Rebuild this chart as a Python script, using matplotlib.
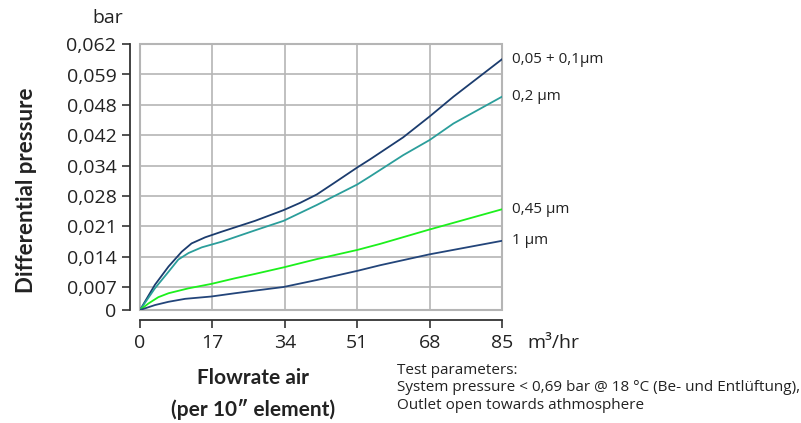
import numpy as np
import matplotlib
matplotlib.use('Agg')
import matplotlib.pyplot as plt
from matplotlib.patches import Rectangle

# flowrate (m3/hr) and differential pressure (bar)
x_005 = [0, 3.5, 6.7, 9.8, 12.1, 15.3, 19.2, 27, 33.7, 37.6, 41.5, 45.4, 51, 54, 61.8, 68, 73.6, 85]
dp_005 = [0, 0.0075, 0.0117, 0.0151, 0.0170, 0.0184, 0.0197, 0.0222, 0.0247, 0.0264,
          0.0283, 0.0305, 0.0337, 0.0357, 0.0414, 0.0457, 0.0510, 0.0605]

x_02 = [0, 3.5, 6.7, 9.0, 11.4, 14.5, 19.2, 27, 33.7, 41.5, 51, 54, 61.8, 68, 73.6, 85]
dp_02 = [0, 0.0066, 0.0105, 0.0133, 0.0148, 0.0161, 0.0174, 0.0200, 0.0222, 0.0259,
         0.0303, 0.0319, 0.0368, 0.0407, 0.0443, 0.0510]

x_045 = [0, 2.0, 4.3, 6.7, 11.4, 16.7, 22.3, 27, 33.7, 41.5, 51, 56.4, 68, 85]
dp_045 = [0, 0.0020, 0.0039, 0.0051, 0.0066, 0.0077, 0.0090, 0.0100, 0.0115, 0.0134,
          0.0155, 0.0169, 0.0202, 0.0249]

x_1 = [0, 3.5, 6.7, 10.6, 16.7, 22.3, 27, 33.7, 41.5, 51, 56.4, 68, 85]
dp_1 = [0, 0.0015, 0.0025, 0.0034, 0.0041, 0.0051, 0.0059, 0.0070, 0.0086, 0.0107,
        0.0120, 0.0145, 0.0176]

series_names = ['0,05 + 0,1µm', '0,2 µm', '0,45 µm', '1 µm']
series_colors = ['#1b3c6e', '#2b9e9b', '#1cf01c', '#23457a']

x_ticks = [0, 17, 34, 51, 68, 85]
y_ticks = [0, 0.007, 0.014, 0.021, 0.028, 0.034, 0.042, 0.048, 0.059, 0.062]
y_tick_labels = ['0', '0,007', '0,014', '0,021', '0,028', '0,034', '0,042', '0,048', '0,059', '0,062']

# the drawing's y axis is not linear: place the ticks where the original has them
y_tick_pos = np.array([0, 23, 53.5, 84, 114, 144, 175, 205, 235.5, 266]) / 30.0


def fwd(v):
    return np.interp(v, y_ticks, y_tick_pos)


def inv(p):
    return np.interp(p, y_tick_pos, y_ticks)


plt.rcParams['font.family'] = ['Open Sans', 'DejaVu Sans']
grid_col = '#b5b5b5'
axis_col = '#333333'
txt_col = '#222222'

fig = plt.figure(figsize=(8.01, 4.23), dpi=100)
ax = fig.add_axes([140 / 801, 113 / 423, 362 / 801, 266 / 423])
ax.set_yscale('function', functions=(fwd, inv))
ax.set_xlim(0, 85)
ax.set_ylim(0, 0.062)

for xs, ys, name, c in zip([x_005, x_02, x_045, x_1], [dp_005, dp_02, dp_045, dp_1],
                           series_names, series_colors):
    ax.plot(xs, ys, color=c, lw=1.3, zorder=3)
    ax.annotate(name, xy=(xs[-1], ys[-1]), xytext=(7, 0), textcoords='offset points',
                va='center', ha='left', fontsize=11, color=txt_col, annotation_clip=False)

ax.set_xticks(x_ticks)
ax.set_yticks(y_ticks)
ax.set_yticklabels(y_tick_labels)
ax.minorticks_off()
ax.grid(True, color=grid_col, lw=1.2)
ax.set_axisbelow(True)
ax.add_patch(Rectangle((0, 0), 1, 1, transform=ax.transAxes, fill=False,
                       edgecolor=grid_col, lw=1.5, clip_on=False, zorder=2))

for s in ['top', 'right']:
    ax.spines[s].set_visible(False)
for s in ['left', 'bottom']:
    ax.spines[s].set_position(('outward', 7.5))
    ax.spines[s].set_color(axis_col)
    ax.spines[s].set_linewidth(1.3)
ax.tick_params(axis='both', colors=axis_col, labelcolor=txt_col, labelsize=14,
               length=5.5, width=1.2)
ax.tick_params(axis='y', pad=4)
ax.tick_params(axis='x', pad=4)

fig.text(108 / 801, 1 - 18 / 423, 'bar', ha='center', va='center', fontsize=14, color=txt_col)
fig.text(527 / 801, 1 - 343 / 423, 'm³/hr', ha='left', va='center', fontsize=14, color=txt_col)
fig.text(27 / 801, 1 - 190 / 423, 'Differential pressure', rotation=90, ha='center', va='center',
         fontsize=16, fontweight='bold', family=['Lato', 'DejaVu Sans'], color=txt_col)
fig.text(253 / 801, 1 - 378 / 423, 'Flowrate air', ha='center', va='center',
         fontsize=15, fontweight='bold', family=['Lato', 'DejaVu Sans'], color=txt_col)
fig.text(253 / 801, 1 - 409 / 423, '(per 10″ element)', ha='center', va='center',
         fontsize=15, fontweight='bold', family=['Lato', 'DejaVu Sans'], color=txt_col)
fig.text(397 / 801, 1 - 363 / 423,
         'Test parameters:\nSystem pressure < 0,69 bar @ 18 °C (Be- und Entlüftung),\n'
         'Outlet open towards athmosphere',
         ha='left', va='top', fontsize=11, color=txt_col, linespacing=1.22)

fig.savefig('out.png', dpi=100)
